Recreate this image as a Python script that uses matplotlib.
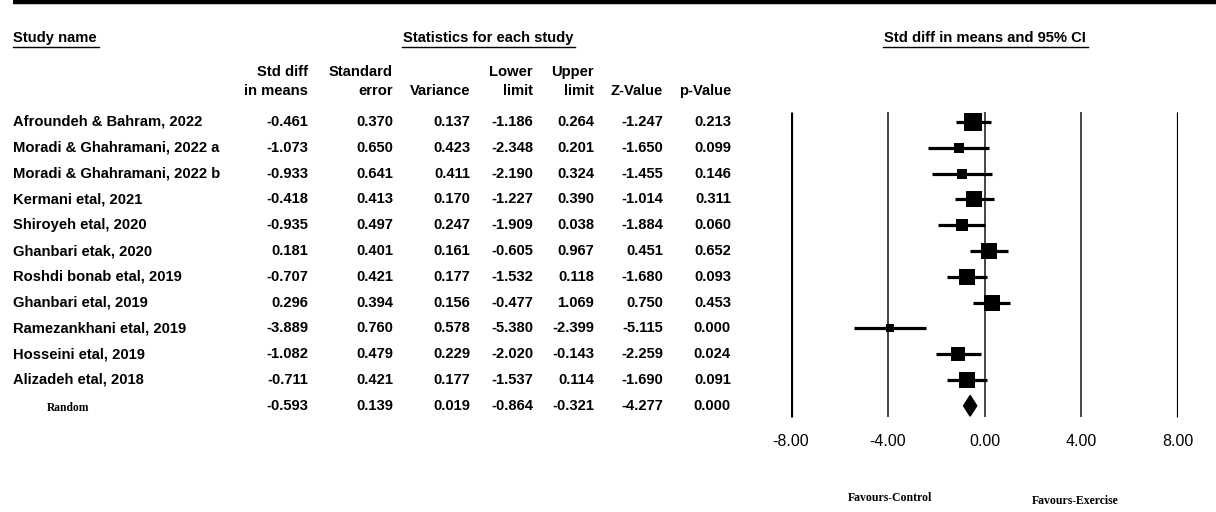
import matplotlib.pyplot as plt
from matplotlib.patches import Polygon
import numpy as np

studies = ["Afroundeh & Bahram, 2022", "Moradi & Ghahramani, 2022 a",
           "Moradi & Ghahramani, 2022 b", "Kermani etal, 2021", "Shiroyeh etal, 2020",
           "Ghanbari etak, 2020", "Roshdi bonab etal, 2019", "Ghanbari etal, 2019",
           "Ramezankhani etal, 2019", "Hosseini etal, 2019", "Alizadeh etal, 2018"]
smd = [-0.461, -1.073, -0.933, -0.418, -0.935, 0.181, -0.707, 0.296, -3.889, -1.082, -0.711]
se = [0.370, 0.650, 0.641, 0.413, 0.497, 0.401, 0.421, 0.394, 0.760, 0.479, 0.421]
variance = [0.137, 0.423, 0.411, 0.170, 0.247, 0.161, 0.177, 0.156, 0.578, 0.229, 0.177]
lower = [-1.186, -2.348, -2.190, -1.227, -1.909, -0.605, -1.532, -0.477, -5.380, -2.020, -1.537]
upper = [0.264, 0.201, 0.324, 0.390, 0.038, 0.967, 0.118, 1.069, -2.399, -0.143, 0.114]
zval = [-1.247, -1.650, -1.455, -1.014, -1.884, 0.451, -1.680, 0.750, -5.115, -2.259, -1.690]
pval = [0.213, 0.099, 0.146, 0.311, 0.060, 0.652, 0.093, 0.453, 0.000, 0.024, 0.091]

# random effects summary
rnd = [-0.593, 0.139, 0.019, -0.864, -0.321, -4.277, 0.000]

xticks = [-8, -4, 0, 4, 8]

W, H = 1216, 512
fig = plt.figure(figsize=(W / 100, H / 100), dpi=100)
ax = fig.add_axes([0, 0, 1, 1])
ax.set_xlim(0, W)
ax.set_ylim(H, 0)
ax.axis("off")

sans = "Liberation Sans"
serif = "Liberation Serif"
fs = 10.6

# top rule
ax.plot([13, W], [2, 2], color="black", lw=3.2, solid_capstyle="butt")

# section headers, underlined
def header(x, text, ha="left", x0=None, x1=None):
    ax.text(x, 38, text, ha=ha, va="center", fontsize=fs, family=sans,
            fontweight="bold")
    ax.plot([x0, x1], [47, 47], color="black", lw=1.0)

header(13, "Study name", x0=13, x1=99)
header(488, "Statistics for each study", ha="center", x0=402, x1=575)
header(985, "Std diff in means and 95% CI", ha="center", x0=883, x1=1088)

col_right = [308, 393, 470, 533, 594, 663, 731]
head1 = ["Std diff", "Standard", "", "Lower", "Upper", "", ""]
head2 = ["in means", "error", "Variance", "limit", "limit", "Z-Value", "p-Value"]
for x, h1, h2 in zip(col_right, head1, head2):
    ax.text(x, 72, h1, ha="right", va="center", fontsize=fs, family=sans, fontweight="bold")
    ax.text(x, 91, h2, ha="right", va="center", fontsize=fs, family=sans, fontweight="bold")

y0, dy = 122, 25.8
cols = [smd, se, variance, lower, upper, zval, pval]
for i, name in enumerate(studies):
    y = y0 + i * dy
    ax.text(13, y, name, ha="left", va="center", fontsize=fs, family=sans, fontweight="bold")
    for x, c in zip(col_right, cols):
        ax.text(x, y, f"{c[i]:.3f}", ha="right", va="center", fontsize=fs, family=sans,
                fontweight="bold")

yr = y0 + len(studies) * dy
ax.text(47, yr + 2, "Random", ha="left", va="center", fontsize=8.3, family=serif,
        fontweight="bold")
for x, v in zip(col_right, rnd):
    ax.text(x, yr, f"{v:.3f}", ha="right", va="center", fontsize=fs, family=sans,
            fontweight="bold")

# forest panel
left_px, right_px = 791, 1178
fa = fig.add_axes([left_px / W, 0, (right_px - left_px) / W, 1])
fa.set_xlim(-8, 8)
fa.set_ylim((H - y0) / dy, -y0 / dy)
fa.axis("off")

ytop, ybot = -0.4, (417 - y0) / dy
for t in xticks:
    edge = abs(t) == 8
    fa.plot([t, t], [ytop, ybot], color="black" if edge else "#444444",
            lw=2.3 if edge else 1.4, solid_capstyle="butt")
    fa.text(t, (441 - y0) / dy, f"{t:.2f}", ha="center", va="center", fontsize=11.5,
            family=sans)

for i in range(len(studies)):
    fa.plot([lower[i], upper[i]], [i, i], color="black", lw=2.3, solid_capstyle="butt")
    side = 6.4 * np.sqrt(1 / variance[i]) * 0.72
    fa.plot(smd[i], i, marker="s", ms=side, color="black", mec="black", mew=0)

k = len(studies)
h = 0.4
fa.add_patch(Polygon([[rnd[3], k], [rnd[0], k - h], [rnd[4], k], [rnd[0], k + h]],
                     closed=True, color="black"))

ax.text(890, 498, "Favours-Control", ha="center", va="center", fontsize=8.5, family=serif,
        fontweight="bold")
ax.text(1075, 501, "Favours-Exercise", ha="center", va="center", fontsize=8.5, family=serif,
        fontweight="bold")

fig.savefig("out.png", dpi=100)
